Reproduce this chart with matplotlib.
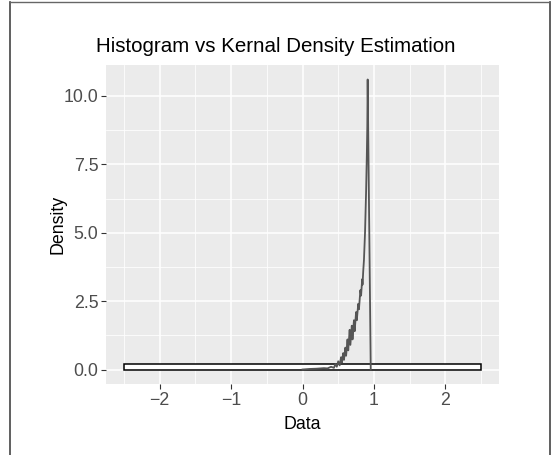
import matplotlib
matplotlib.use("Agg")
import matplotlib.pyplot as plt
from matplotlib.lines import Line2D

plt.rcParams['font.family'] = ['Liberation Sans', 'DejaVu Sans']

# histogram: one bin, density scale
bin_left = [-2.5]
bin_right = [2.5]
bin_density = [0.2]

# kernel density curve
kde_x = [0.00, 0.10, 0.20, 0.30, 0.35, 0.40, 0.44, 0.46, 0.48, 0.50, 0.52, 0.54,
         0.55, 0.57, 0.58, 0.60, 0.61, 0.63, 0.64, 0.66, 0.67, 0.69, 0.70, 0.72,
         0.73, 0.75, 0.76, 0.78, 0.79, 0.81, 0.82, 0.835, 0.84, 0.85, 0.86, 0.875,
         0.89, 0.90, 0.907, 0.912, 0.955]
kde_y = [0.00, 0.02, 0.03, 0.05, 0.04, 0.10, 0.06, 0.20, 0.10, 0.30, 0.15, 0.45,
         0.25, 0.60, 0.35, 0.80, 0.50, 1.10, 0.70, 1.45, 0.90, 1.60, 1.10, 1.80,
         1.40, 2.10, 1.80, 2.40, 2.20, 2.90, 2.70, 3.30, 3.10, 3.60, 4.00, 5.00,
         6.50, 7.80, 8.90, 10.60, 0.00]

x_ticks = [-2, -1, 0, 1, 2]
y_ticks = [0.0, 2.5, 5.0, 7.5, 10.0]
y_tick_labels = ['0.0', '2.5', '5.0', '7.5', '10.0']

fig = plt.figure(figsize=(5.51, 4.55), dpi=100)
ax = fig.add_axes([106 / 551, 71 / 455, 393 / 551, 319 / 455])
ax.set_facecolor('#EBEBEB')

for l, r, d in zip(bin_left, bin_right, bin_density):
    ax.bar(l, d, width=r - l, align='edge', facecolor='white',
           edgecolor='black', linewidth=1.1, zorder=2)
ax.plot(kde_x, kde_y, color='#555555', linewidth=1.3, zorder=3)

ax.set_xlim(-2.75, 2.75)
ax.set_ylim(-0.53, 11.13)
ax.set_xticks(x_ticks)
ax.set_xticklabels(['\u22122', '\u22121', '0', '1', '2'])
ax.set_yticks(y_ticks)
ax.set_yticklabels(y_tick_labels)
ax.set_xticks([-2.5, -1.5, -0.5, 0.5, 1.5, 2.5], minor=True)
ax.set_yticks([1.25, 3.75, 6.25, 8.75], minor=True)
ax.grid(which='major', color='white', linewidth=1.1, zorder=0)
ax.grid(which='minor', color='white', linewidth=0.55, zorder=0)
ax.set_axisbelow(True)
ax.tick_params(which='major', length=3.5, width=0.8, color='#333333',
               labelcolor='#4D4D4D', labelsize=12.8, pad=2)
ax.tick_params(which='minor', length=0)
for s in ax.spines.values():
    s.set_visible(False)

ax.set_xlabel('Data', fontsize=12.8, labelpad=5)
ax.set_ylabel('Density', fontsize=12.8, labelpad=-2)
fig.text(0.5, 1 - 47 / 455, 'Histogram vs Kernal Density Estimation',
         ha='center', va='center', fontsize=14.8)

# frame around the picture
fig.add_artist(Line2D([10 / 551, 10 / 551], [0, 1 - 2 / 455], color='#444444',
                      linewidth=1.2, transform=fig.transFigure))
fig.add_artist(Line2D([549.5 / 551, 549.5 / 551], [0, 1 - 2 / 455], color='#444444',
                      linewidth=1.2, transform=fig.transFigure))
fig.add_artist(Line2D([10 / 551, 549.5 / 551], [1 - 2 / 455, 1 - 2 / 455],
                      color='#666666', linewidth=1.0, transform=fig.transFigure))

fig.savefig('out.png', dpi=100)
